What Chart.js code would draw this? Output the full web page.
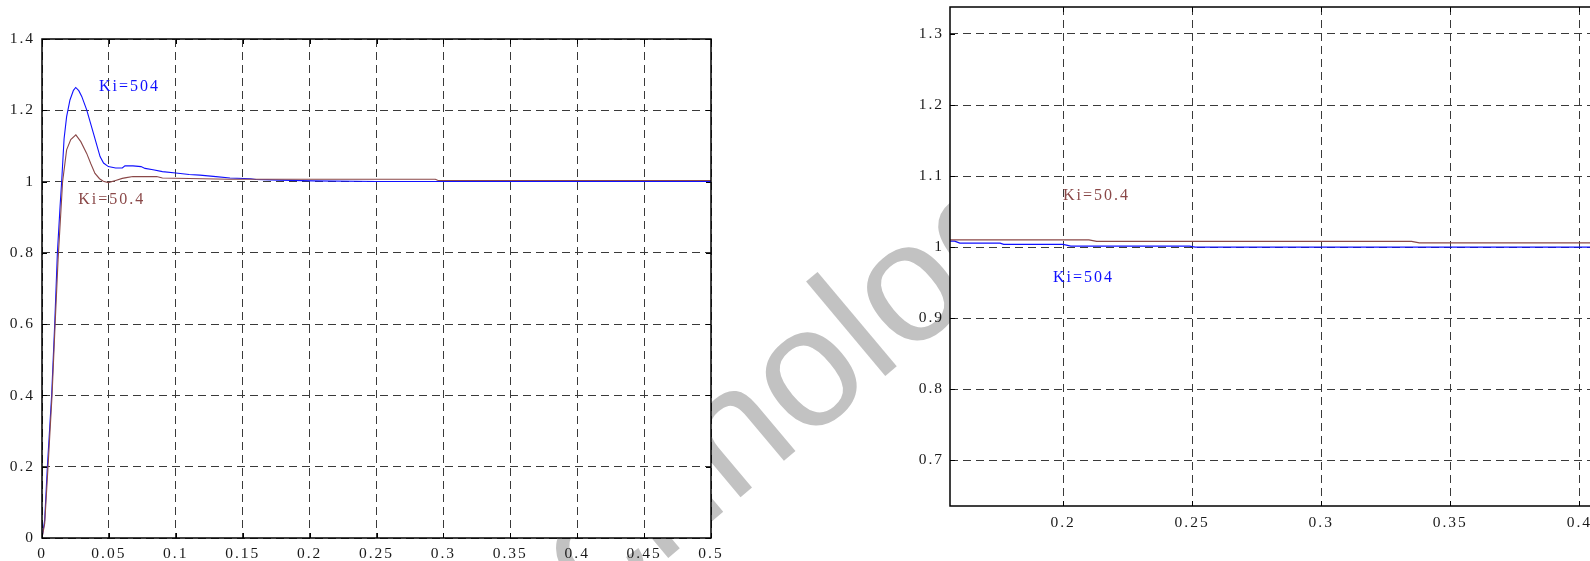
<!DOCTYPE html>
<html>
<head>
<meta charset="utf-8">
<script src="https://cdn.jsdelivr.net/npm/chart.js@4.4.1/dist/chart.umd.min.js"></script>
<style>
  html, body { margin: 0; padding: 0; background: #fff; overflow: hidden; }
  #stage { position: relative; width: 1590px; height: 561px; overflow: hidden; background: #fff; }
  #mark {
    position: absolute; left: 748px; top: 414px;
    font: 170px 'Liberation Sans', Arial, sans-serif; line-height: 1;
    color: #c2c2c2; white-space: nowrap;
    transform: translate(-50%, -50%) rotate(-40deg);
  }
  canvas { position: absolute; top: 0; }
  #left { left: 0; }
  #right { left: 860px; }
</style>
</head>
<body>
<div id="stage">
  <div id="mark">Technology</div>
  <canvas id="left" width="760" height="561"></canvas>
  <canvas id="right" width="800" height="561"></canvas>
</div>
<script>
// Step response over the full run, Ki = 504
const tFast = [0, 0.002, 0.004, 0.0072, 0.0095, 0.0115, 0.0135, 0.0147, 0.0165, 0.0184, 0.0209, 0.0235, 0.0252, 0.0275, 0.0297, 0.0334, 0.0384, 0.0434, 0.046, 0.0496, 0.055, 0.060, 0.062, 0.068, 0.074, 0.077, 0.083, 0.09, 0.1, 0.11, 0.118, 0.13, 0.1405, 0.156, 0.16, 0.177, 0.203, 0.25, 0.5];
const yFast = [0, 0.05, 0.2, 0.4, 0.6, 0.8, 0.93, 1.0, 1.12, 1.182, 1.229, 1.256, 1.264, 1.255, 1.239, 1.201, 1.136, 1.070, 1.052, 1.042, 1.038, 1.038, 1.044, 1.044, 1.042, 1.037, 1.033, 1.028, 1.024, 1.02, 1.018, 1.014, 1.01, 1.008, 1.006, 1.004, 1.002, 1.0, 1.0];

// Step response over the full run, Ki = 50.4
const tSlow = [0, 0.002, 0.0045, 0.0075, 0.0098, 0.012, 0.01345, 0.0154, 0.0184, 0.0215, 0.0253, 0.029, 0.0334, 0.0365, 0.0396, 0.043, 0.0458, 0.0496, 0.055, 0.06, 0.063, 0.068, 0.0857, 0.09, 0.14, 0.294, 0.296, 0.5];
const ySlow = [0, 0.04, 0.2, 0.4, 0.6, 0.78, 0.873, 1.0, 1.089, 1.118, 1.131, 1.112, 1.079, 1.05, 1.023, 1.008, 1.001, 0.997, 1.003, 1.009, 1.011, 1.014, 1.014, 1.01, 1.0065, 1.0065, 1.003, 1.003];

// Settled part of the response, enlarged
const tFastZoom = [0.15, 0.158, 0.16, 0.1756, 0.177, 0.2, 0.203, 0.249, 0.2512, 0.45];
const yFastZoom = [1.0085, 1.0085, 1.0056, 1.0056, 1.0038, 1.0038, 1.0014, 1.0014, 1.0, 1.0];
const tSlowZoom = [0.15, 0.21, 0.213, 0.335, 0.338, 0.45];
const ySlowZoom = [1.0103, 1.0103, 1.008, 1.008, 1.006, 1.006];

// Axis ticks and their labels
const fullXTicks = [0, 0.05, 0.1, 0.15, 0.2, 0.25, 0.3, 0.35, 0.4, 0.45, 0.5];
const fullXLabels = ['0', '0.05', '0.1', '0.15', '0.2', '0.25', '0.3', '0.35', '0.4', '0.45', '0.5'];
const fullYTicks = [0, 0.2, 0.4, 0.6, 0.8, 1.0, 1.2, 1.4];
const fullYLabels = ['0', '0.2', '0.4', '0.6', '0.8', '1', '1.2', '1.4'];
const zoomXTicks = [0.2, 0.25, 0.3, 0.35, 0.4];
const zoomXLabels = ['0.2', '0.25', '0.3', '0.35', '0.4'];
const zoomYTicks = [0.7, 0.8, 0.9, 1.0, 1.1, 1.2, 1.3];
const zoomYLabels = ['0.7', '0.8', '0.9', '1', '1.1', '1.2', '1.3'];

// Curve names and where they are written (data coordinates)
const curveNames = ['Ki=504', 'Ki=50.4'];
const fullNameAt = [[0.0426, 1.266], [0.0271, 0.948]];
const zoomNameAt = [[0.1961, 0.957], [0.2, 1.072]];

const BLUE = '#1010ff';
const BROWN = '#8a4848';
const FONT = "'Liberation Serif', 'Times New Roman', serif";

const toPoints = (xs, ys) => xs.map((x, i) => ({ x, y: ys[i] }));

// White plot area, boxed frame with inward ticks, curve names
const framePlugin = {
  id: 'frame',
  beforeUpdate(chart) { chart.ctx.letterSpacing = '2px'; },
  beforeDraw(chart) {
    const { ctx, chartArea: a } = chart;
    ctx.save();
    ctx.fillStyle = '#fff';
    ctx.fillRect(a.left, a.top, a.right - a.left, a.bottom - a.top);
    ctx.restore();
    ctx.letterSpacing = '2px';
  },
  afterDraw(chart, args, opts) {
    const { ctx, chartArea: a, scales } = chart;
    ctx.save();
    ctx.strokeStyle = '#000';
    ctx.lineWidth = 1;
    ctx.beginPath();
    scales.x.ticks.forEach(t => {
      const px = Math.round(scales.x.getPixelForValue(t.value)) + 0.5;
      ctx.moveTo(px, a.bottom); ctx.lineTo(px, a.bottom - 5);
      ctx.moveTo(px, a.top); ctx.lineTo(px, a.top + 5);
    });
    scales.y.ticks.forEach(t => {
      const py = Math.round(scales.y.getPixelForValue(t.value)) + 0.5;
      ctx.moveTo(a.left, py); ctx.lineTo(a.left + 5, py);
      ctx.moveTo(a.right, py); ctx.lineTo(a.right - 5, py);
    });
    ctx.stroke();
    ctx.lineWidth = 1.5;
    ctx.strokeRect(a.left, a.top, a.right - a.left, a.bottom - a.top);

    ctx.letterSpacing = '2px';
    ctx.font = '16px ' + FONT;
    ctx.textAlign = 'left';
    ctx.textBaseline = 'middle';
    opts.names.forEach((n, i) => {
      ctx.fillStyle = opts.colors[i];
      ctx.fillText(n, scales.x.getPixelForValue(opts.at[i][0]), scales.y.getPixelForValue(opts.at[i][1]));
    });
    ctx.restore();
  }
};

function axis(min, max, ticks, labels, fitSize, horizontal, pad) {
  return {
    type: 'linear', min, max,
    afterBuildTicks: s => { s.ticks = ticks.map(v => ({ value: v })); },
    afterFit: s => {
      if (horizontal) { s.height = fitSize; s.paddingLeft = 0; s.paddingRight = 0; }
      else { s.width = fitSize; s.paddingTop = 0; s.paddingBottom = 0; }
    },
    grid: { color: '#3a3a3a', lineWidth: 1, drawTicks: false },
    border: { display: false, dash: [8, 5] },
    ticks: {
      autoSkip: false, maxRotation: 0, padding: pad,
      color: '#1a1a1a',
      font: { family: FONT, size: 15.5 },
      callback: (v, i) => labels[i]
    }
  };
}

function plot(id, sets, scales, padding, names) {
  const canvas = document.getElementById(id);
  canvas.getContext('2d').letterSpacing = '2px';
  return new Chart(canvas, {
    type: 'line',
    data: {
      datasets: sets.map(s => ({
        data: s.data, borderColor: s.color, borderWidth: s.width,
        pointRadius: 0, tension: 0, fill: false
      }))
    },
    options: {
      responsive: false, animation: false, devicePixelRatio: 1,
      layout: { padding },
      scales,
      plugins: { legend: { display: false }, tooltip: { enabled: false }, frame: names }
    },
    plugins: [framePlugin]
  });
}

plot('left',
  [
    { data: toPoints(tSlow, ySlow), color: BROWN, width: 1.1 },
    { data: toPoints(tFast, yFast), color: BLUE, width: 1.1 }
  ],
  {
    x: axis(0, 0.5, fullXTicks, fullXLabels, 23, true, 7),
    y: axis(0, 1.4, fullYTicks, fullYLabels, 42, false, 7)
  },
  { left: 0, top: 39, right: 49, bottom: 0 },
  { names: curveNames, colors: [BLUE, BROWN], at: fullNameAt }
);

plot('right',
  [
    { data: toPoints(tSlowZoom, ySlowZoom), color: BROWN, width: 1.3 },
    { data: toPoints(tFastZoom, yFastZoom), color: BLUE, width: 1.3 }
  ],
  {
    x: axis(0.1562, 0.42, zoomXTicks, zoomXLabels, 55, true, 8),
    y: axis(0.6357, 1.338, zoomYTicks, zoomYLabels, 90, false, 6)
  },
  { left: 0, top: 7, right: 29, bottom: 0 },
  { names: curveNames, colors: [BLUE, BROWN], at: zoomNameAt }
);
</script>
</body>
</html>
